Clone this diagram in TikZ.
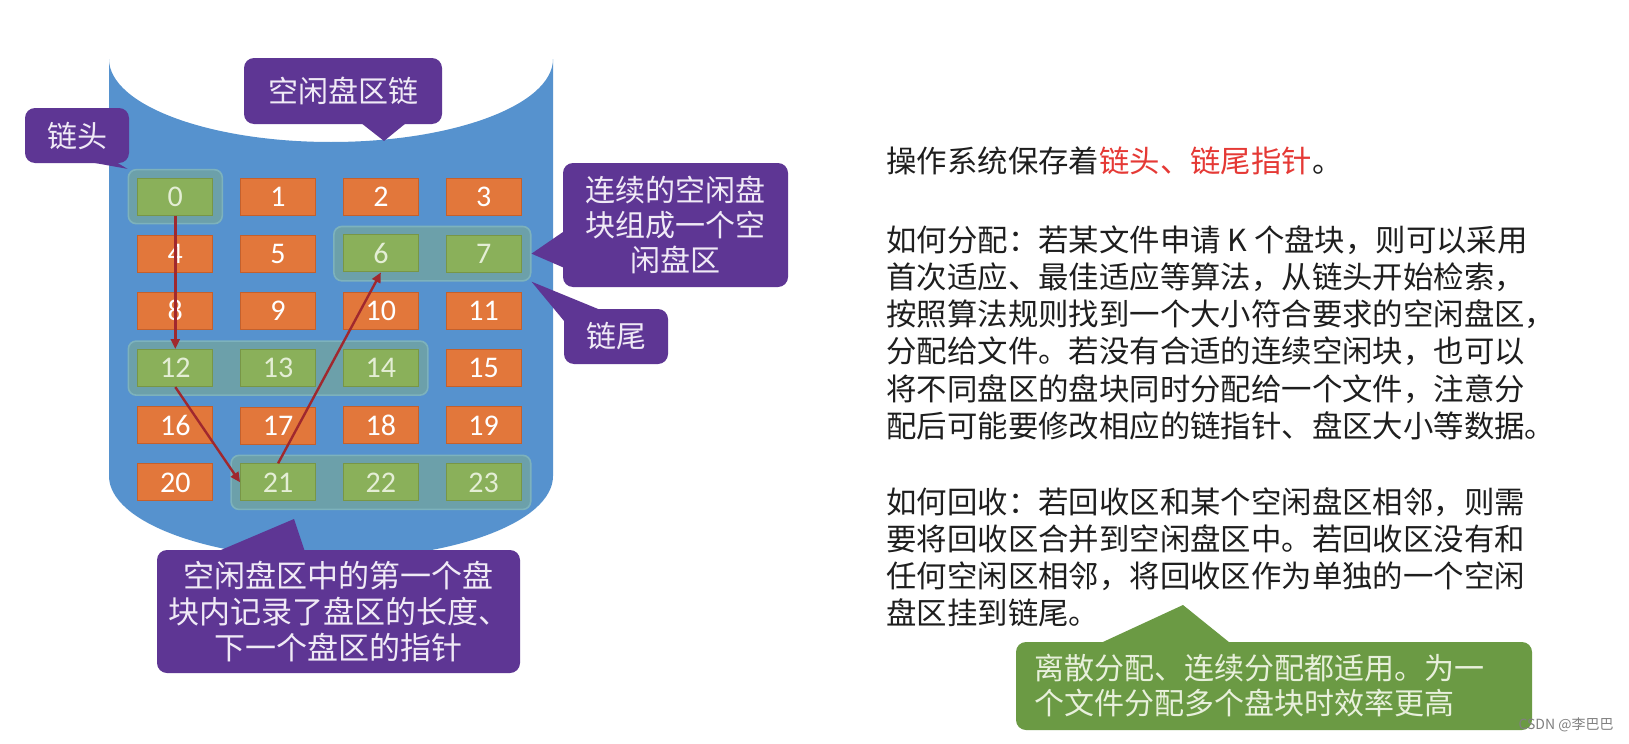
\documentclass[tikz,border=0pt]{standalone}
\usepackage{fontspec}
\newfontfamily\zh{Noto Sans CJK SC}
\newfontfamily\cellfont{Carlito}
\usepackage{tikz}
\usetikzlibrary{matrix,fit,positioning,arrows.meta,calc}

\definecolor{diskblue}{RGB}{86,146,206}
\definecolor{usedorange}{RGB}{226,119,59}
\definecolor{usededge}{RGB}{196,96,44}
\definecolor{freegreen}{RGB}{138,176,90}
\definecolor{freeedge}{RGB}{120,150,70}
\definecolor{freetext}{RGB}{228,238,213}
\definecolor{groupteal}{RGB}{108,160,170}
\definecolor{groupedge}{RGB}{125,178,188}
\definecolor{linkred}{RGB}{160,40,46}
\definecolor{notepurple}{RGB}{94,54,148}
\definecolor{notetext}{RGB}{240,234,246}
\definecolor{tipgreen}{RGB}{107,154,68}
\definecolor{tiptext}{RGB}{232,240,220}
\definecolor{bodytext}{RGB}{30,30,30}
\definecolor{hlred}{RGB}{229,57,53}

\pgfdeclarelayer{bg}
\pgfdeclarelayer{groups}
\pgfsetlayers{bg,groups,main}

\tikzset{
  cell/.style={draw=usededge, fill=usedorange, line width=0.5pt, minimum width=37.5pt, minimum height=18.5pt, inner sep=0pt, text=white, font=\cellfont\fontsize{15}{15}\selectfont},
  free/.style={draw=freeedge, fill=freegreen, text=freetext},
  group/.style={draw=groupedge, fill=groupteal, line width=0.8pt, rounded corners=4pt, inner xsep=4.5pt, inner ysep=4pt},
  link/.style={draw=linkred, line width=1.2pt, -{Triangle[length=5pt,width=4.5pt]}},
  bubble/.style={fill=notepurple, text=notetext, rounded corners=5pt, inner sep=0pt, align=center, font=\zh\fontsize{15}{17.5}\selectfont},
  para/.style={inner sep=0pt, align=left, text=bodytext, font=\zh\fontsize{15.2}{18.6}\selectfont}
}

\begin{document}
\begin{tikzpicture}[x=0.5pt,y=-0.5pt]
  \useasboundingbox (0,0) rectangle (1629,744);
  \begin{pgfonlayer}{bg}
    \fill[white] (0,0) rectangle (1629,744);
    \fill[diskblue] (109,59) -- (109,476) arc[start angle=180, end angle=0, x radius=222, y radius=83] -- (553,59) arc[start angle=0, end angle=180, x radius=222, y radius=83] -- cycle;
  \end{pgfonlayer}

  \matrix(m) at (329.5,339.5) [matrix of nodes, row sep=9.4pt, column sep=13.4pt, nodes={cell}] {
    |[free]| 0 & 1 & 2 & 3 \\
    4 & 5 & |[free]| 6 & |[free]| 7 \\
    8 & 9 & 10 & 11 \\
    |[free]| 12 & |[free]| 13 & |[free]| 14 & 15 \\
    16 & 17 & 18 & 19 \\
    20 & |[free]| 21 & |[free]| 22 & |[free]| 23 \\
  };
  \begin{pgfonlayer}{groups}
    \node[group, fit=(m-1-1)] (g0) {};
    \node[group, fit=(m-2-3) (m-2-4)] (g1) {};
    \node[group, fit=(m-4-1) (m-4-3)] (g2) {};
    \node[group, fit=(m-6-2) (m-6-4)] (g3) {};
  \end{pgfonlayer}
  \draw[link] (m-1-1.south) -- (m-4-1.north);
  \draw[link] (m-4-1.south) -- (m-6-2.west);
  \draw[link] (m-6-2.north) -- (m-2-3.south);

  \node[bubble, minimum width=99pt, minimum height=33pt] (chain) at (343,91) {空闲盘区链};
  \coordinate (chaintip) at (384,141);
  \fill[notepurple] ($(chain.south west)+(118,-1)$) -- (chaintip) -- ($(chain.south west)+(162,-1)$) -- cycle;

  \node[bubble, minimum width=52pt, minimum height=27.5pt] (head) at (77,135.5) {链头};
  \fill[notepurple] ($(head.south west)+(67,-1)$) -- (g0.north west) -- ($(head.south west)+(92,-1)$) -- cycle;

  \node[bubble, minimum width=112.5pt, minimum height=62pt] (run) at (675.5,225) {连续的空闲盘\\块组成一个空\\闲盘区};
  \fill[notepurple] ($(run.north west)+(1,69)$) -- (g1.east) -- ($(run.north west)+(1,105)$) -- cycle;

  \node[bubble, minimum width=52pt, minimum height=27.5pt] (tail) at (616,336.5) {链尾};
  \fill[notepurple] ($(tail.north west)+(1,13)$) -- (g1.south east) -- ($(tail.north west)+(36,1)$) -- cycle;

  \node[bubble, minimum width=181.5pt, minimum height=61.5pt, font=\zh\fontsize{15.5}{18}\selectfont] (first) at (338.5,611.5) {空闲盘区中的第一个盘\\块内记录了盘区的长度、\\下一个盘区的指针};
  \coordinate (firsttip) at (294,519);
  \fill[notepurple] ($(first.north west)+(63,1)$) -- (firsttip) -- ($(first.north west)+(148,1)$) -- cycle;

  \node[para, anchor=west] (keep) at (886,161) {操作系统保存着\textcolor{hlred}{链头、链尾指针}。};
  \node[para, anchor=north west] (alloc) at (886,225) {如何分配：若某文件申请 K 个盘块，则可以采用\\首次适应、最佳适应等算法，从链头开始检索，\\按照算法规则找到一个大小符合要求的空闲盘区，\\分配给文件。若没有合适的连续空闲块，也可以\\将不同盘区的盘块同时分配给一个文件，注意分\\配后可能要修改相应的链指针、盘区大小等数据。};
  \node[para, anchor=north west] (reclaim) at (886,487) {如何回收：若回收区和某个空闲盘区相邻，则需\\要将回收区合并到空闲盘区中。若回收区没有和\\任何空闲区相邻，将回收区作为单独的一个空闲\\盘区挂到链尾。};

  \node[bubble, fill=tipgreen, text=tiptext, align=left, text width=240pt, inner xsep=9pt, minimum height=44pt] (suits) at (1274,686) {离散分配、连续分配都适用。为一\\个文件分配多个盘块时效率更高};
  \coordinate (suitstip) at (1183,605);
  \fill[tipgreen] ($(suits.north west)+(86,1)$) -- (suitstip) -- ($(suits.north west)+(214,1)$) -- cycle;

  \node[text=gray, font=\zh\fontsize{7}{7}\selectfont, anchor=east, inner sep=0pt] (mark) at (1614,725) {CSDN @李巴巴};
\end{tikzpicture}
\end{document}
